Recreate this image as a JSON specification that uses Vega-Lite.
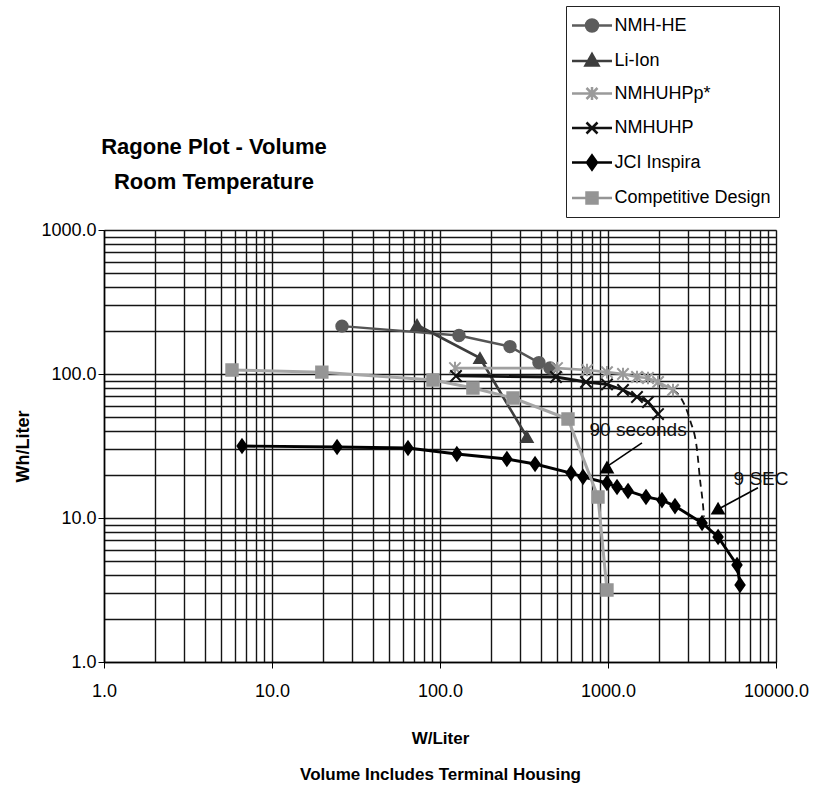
{
  "$schema": "https://vega.github.io/schema/vega-lite/v6.json",
  "width": 672,
  "height": 432,
  "autosize": "none",
  "padding": {"left": 104, "top": 230, "right": 37, "bottom": 127},
  "background": "white",
  "title": {
    "text": ["Ragone Plot - Volume", "Room Temperature"],
    "frame": "group",
    "anchor": "start",
    "align": "center",
    "dx": 110,
    "offset": -188,
    "fontSize": 22,
    "lineHeight": 35,
    "font": "Liberation Sans",
    "fontWeight": "bold",
    "color": "#000000"
  },
  "config": {
    "view": {"stroke": "#777777", "strokeWidth": 1},
    "font": "Liberation Sans",
    "axis": {"labelFont": "Liberation Sans", "titleFont": "Liberation Sans"}
  },
  "datasets": {
    "pts": [
      {"s": "NMH-HE", "i": 1, "x": 26.1, "y": 215},
      {"s": "NMH-HE", "i": 2, "x": 129.7, "y": 185},
      {"s": "NMH-HE", "i": 3, "x": 261, "y": 155},
      {"s": "NMH-HE", "i": 4, "x": 388, "y": 120},
      {"s": "NMH-HE", "i": 5, "x": 452, "y": 110},
      {"s": "Li-Ion", "i": 1, "x": 73, "y": 219},
      {"s": "Li-Ion", "i": 2, "x": 173, "y": 129},
      {"s": "Li-Ion", "i": 3, "x": 329, "y": 36.5},
      {"s": "NMHUHPp*", "i": 1, "x": 122.8, "y": 110},
      {"s": "NMHUHPp*", "i": 2, "x": 497, "y": 110},
      {"s": "NMHUHPp*", "i": 3, "x": 750, "y": 106.6},
      {"s": "NMHUHPp*", "i": 4, "x": 986, "y": 103},
      {"s": "NMHUHPp*", "i": 5, "x": 1228, "y": 100},
      {"s": "NMHUHPp*", "i": 6, "x": 1488, "y": 95.3},
      {"s": "NMHUHPp*", "i": 7, "x": 1730, "y": 93.8},
      {"s": "NMHUHPp*", "i": 8, "x": 1985, "y": 88},
      {"s": "NMHUHPp*", "i": 9, "x": 2437, "y": 77.4},
      {"s": "NMHUHP", "i": 1, "x": 124.5, "y": 96.9},
      {"s": "NMHUHP", "i": 2, "x": 490, "y": 95.3},
      {"s": "NMHUHP", "i": 3, "x": 740, "y": 88},
      {"s": "NMHUHP", "i": 4, "x": 986, "y": 84.6},
      {"s": "NMHUHP", "i": 5, "x": 1228, "y": 77.4},
      {"s": "NMHUHP", "i": 6, "x": 1488, "y": 69.2},
      {"s": "NMHUHP", "i": 7, "x": 1730, "y": 63.9},
      {"s": "NMHUHP", "i": 8, "x": 1985, "y": 52.7},
      {"s": "JCI Inspira", "i": 1, "x": 6.63, "y": 31.6},
      {"s": "JCI Inspira", "i": 2, "x": 24.4, "y": 31.1},
      {"s": "JCI Inspira", "i": 3, "x": 64.5, "y": 30.6},
      {"s": "JCI Inspira", "i": 4, "x": 126, "y": 27.8},
      {"s": "JCI Inspira", "i": 5, "x": 250, "y": 25.7},
      {"s": "JCI Inspira", "i": 6, "x": 368, "y": 23.7},
      {"s": "JCI Inspira", "i": 7, "x": 602, "y": 20.5},
      {"s": "JCI Inspira", "i": 8, "x": 710, "y": 19.3},
      {"s": "JCI Inspira", "i": 9, "x": 986, "y": 17.5},
      {"s": "JCI Inspira", "i": 10, "x": 1132, "y": 16.4},
      {"s": "JCI Inspira", "i": 11, "x": 1316, "y": 15.4},
      {"s": "JCI Inspira", "i": 12, "x": 1683, "y": 14.0},
      {"s": "JCI Inspira", "i": 13, "x": 2095, "y": 13.3},
      {"s": "JCI Inspira", "i": 14, "x": 2505, "y": 12.1},
      {"s": "JCI Inspira", "i": 15, "x": 3630, "y": 9.23},
      {"s": "JCI Inspira", "i": 16, "x": 4520, "y": 7.38},
      {"s": "JCI Inspira", "i": 17, "x": 5860, "y": 4.72},
      {"s": "JCI Inspira", "i": 18, "x": 6110, "y": 3.43},
      {"s": "Competitive Design", "i": 1, "x": 5.78, "y": 106.6},
      {"s": "Competitive Design", "i": 2, "x": 19.8, "y": 103},
      {"s": "Competitive Design", "i": 3, "x": 90.8, "y": 90.8},
      {"s": "Competitive Design", "i": 4, "x": 157, "y": 80.0},
      {"s": "Competitive Design", "i": 5, "x": 272, "y": 68.1},
      {"s": "Competitive Design", "i": 6, "x": 578, "y": 48.7},
      {"s": "Competitive Design", "i": 7, "x": 872, "y": 14.0},
      {"s": "Competitive Design", "i": 8, "x": 986, "y": 3.16}
    ],
    "dash": [
      {"i": 1, "x": 2437, "y": 77.4},
      {"i": 2, "x": 2720, "y": 68},
      {"i": 3, "x": 3077, "y": 47.9},
      {"i": 4, "x": 3388, "y": 29.7},
      {"i": 5, "x": 3531, "y": 18.4},
      {"i": 6, "x": 3677, "y": 12.3},
      {"i": 7, "x": 3727, "y": 10.2}
    ],
    "notes": [
      {"x": 1510, "y": 40.8, "t": "90 seconds"},
      {"x": 8140, "y": 18.7, "t": "9 SEC"}
    ],
    "arrows": [
      {"x": 1593, "y": 33.2, "x2": 1000, "y2": 23.0},
      {"x": 7810, "y": 16.2, "x2": 4640, "y2": 11.7}
    ],
    "heads": [
      {"x": 986, "y": 22.6},
      {"x": 4520, "y": 11.7}
    ]
  },
  "encoding": {
    "x": {
      "field": "x",
      "type": "quantitative",
      "scale": {"type": "log", "domain": [1, 10000], "nice": false},
      "axis": {
        "values": [1,2,3,4,5,6,7,8,9,10,20,30,40,50,60,70,80,90,100,200,300,400,500,600,700,800,900,1000,2000,3000,4000,5000,6000,7000,8000,9000,10000],
        "labelExpr": "indexof([1,10,100,1000,10000], datum.value) >= 0 ? format(datum.value, '.1f') : ''",
        "labelOverlap": false,
        "labelFlush": false,
        "labelFontSize": 18,
        "labelColor": "#000000",
        "labelPadding": 14,
        "tickSize": 6,
        "tickColor": "#000000",
        "tickOpacity": {"condition": {"test": "indexof([1,10,100,1000,10000], datum.value) >= 0", "value": 1}, "value": 0},
        "grid": true,
        "gridColor": "#141414",
        "gridWidth": 1.4,
        "gridOpacity": 1,
        "domainColor": "#000000",
        "domainWidth": 1.5,
        "title": ["W/Liter", "Volume Includes Terminal Housing"],
        "titleFontSize": 17,
        "titleFontWeight": "bold",
        "titleColor": "#000000",
        "titleLineHeight": 36,
        "titlePadding": 30
      }
    },
    "y": {
      "field": "y",
      "type": "quantitative",
      "scale": {"type": "log", "domain": [1, 1000], "nice": false},
      "axis": {
        "values": [1,2,3,4,5,6,7,8,9,10,20,30,40,50,60,70,80,90,100,200,300,400,500,600,700,800,900,1000],
        "labelExpr": "indexof([1,10,100,1000,10000], datum.value) >= 0 ? format(datum.value, '.1f') : ''",
        "labelOverlap": false,
        "labelFlush": false,
        "labelFontSize": 18,
        "labelColor": "#000000",
        "labelPadding": 2,
        "tickSize": 6,
        "tickColor": "#000000",
        "tickOpacity": {"condition": {"test": "indexof([1,10,100,1000,10000], datum.value) >= 0", "value": 1}, "value": 0},
        "grid": true,
        "gridColor": "#141414",
        "gridWidth": 1.4,
        "gridOpacity": 1,
        "domainColor": "#000000",
        "domainWidth": 1.5,
        "title": "Wh/Liter",
        "titleFontSize": 18,
        "titleFontWeight": "bold",
        "titleColor": "#000000",
        "titlePadding": 8
      }
    }
  },
  "layer": [
    {
      "data": {"name": "pts"},
      "mark": {"type": "line"},
      "encoding": {
        "color": {
          "field": "s", "type": "nominal",
          "scale": {"domain": ["NMH-HE", "Li-Ion", "NMHUHPp*", "NMHUHP", "JCI Inspira", "Competitive Design"],
                    "range": ["#555555", "#3d3d3d", "#a0a0a0", "#111111", "#000000", "#a6a6a6"]},
          "legend": null
        },
        "strokeWidth": {
          "field": "s", "type": "nominal",
          "scale": {"domain": ["NMH-HE", "Li-Ion", "NMHUHPp*", "NMHUHP", "JCI Inspira", "Competitive Design"],
                    "range": [2.5, 3, 2, 2, 2, 2]},
          "legend": null
        },
        "order": {"field": "i", "type": "quantitative"}
      }
    },
    {
      "data": {"name": "dash"},
      "mark": {"type": "line", "strokeDash": [7, 5], "strokeWidth": 1.8, "color": "#111111", "interpolate": "monotone"},
      "encoding": {"order": {"field": "i", "type": "quantitative"}}
    },
    {
      "data": {"name": "pts"},
      "mark": {"type": "point", "size": 130, "strokeWidth": 2, "opacity": 1},
      "encoding": {
        "shape": {
          "field": "s", "type": "nominal",
          "scale": {"domain": ["NMH-HE", "Li-Ion", "NMHUHPp*", "NMHUHP", "JCI Inspira", "Competitive Design"],
                    "range": ["circle", "triangle-up", "M-1,-1L1,1M-1,1L1,-1M0,-1.1V1.1", "M-1,-1L1,1M-1,1L1,-1", "M0,-1.15L0.8,0L0,1.15L-0.8,0Z", "square"]},
          "legend": null
        },
        "fill": {
          "field": "s", "type": "nominal",
          "scale": {"domain": ["NMH-HE", "Li-Ion", "NMHUHPp*", "NMHUHP", "JCI Inspira", "Competitive Design"],
                    "range": ["#5c5c5c", "#3d3d3d", "#9a9a9a", "#111111", "#000000", "#959595"]},
          "legend": null
        },
        "stroke": {
          "field": "s", "type": "nominal",
          "scale": {"domain": ["NMH-HE", "Li-Ion", "NMHUHPp*", "NMHUHP", "JCI Inspira", "Competitive Design"],
                    "range": ["#5c5c5c", "#3d3d3d", "#9a9a9a", "#111111", "#000000", "#959595"]},
          "legend": null
        }
      }
    },
    {
      "data": {"name": "pts"},
      "transform": [{"filter": "datum.x < 0"}],
      "mark": {"type": "point", "opacity": 1, "strokeWidth": 2.5},
      "encoding": {
        "shape": {
          "field": "s", "type": "nominal",
          "scale": {"domain": ["NMH-HE", "Li-Ion", "NMHUHPp*", "NMHUHP", "JCI Inspira", "Competitive Design"],
                    "range": [
                      "M-2,0H2M0.6,0A0.6,0.6,0,1,1,-0.6,0A0.6,0.6,0,1,1,0.6,0Z",
                      "M-2,0H2M0,-0.7L0.65,0.45L-0.65,0.45Z",
                      "M-2,0H2M-0.55,-0.55L0.55,0.55M-0.55,0.55L0.55,-0.55M0,-0.65V0.65",
                      "M-2,0H2M-0.55,-0.55L0.55,0.55M-0.55,0.55L0.55,-0.55",
                      "M-2,0H2M0,-0.7L0.5,0L0,0.7L-0.5,0Z",
                      "M-2,0H2M-0.55,-0.55H0.55V0.55H-0.55Z"
                    ]},
          "legend": {"orient": "none", "legendX": 462, "legendY": -224, "title": null, "strokeColor": "#222222", "padding": 8, "symbolSize": 400, "symbolStrokeWidth": 2.5, "symbolOffset": 6.5, "labelOffset": 11, "labelFontSize": 18, "labelFont": "Liberation Sans", "labelColor": "#000000", "rowPadding": 11.5, "symbolOpacity": 1}
        },
        "fill": {
          "field": "s", "type": "nominal",
          "scale": {"domain": ["NMH-HE", "Li-Ion", "NMHUHPp*", "NMHUHP", "JCI Inspira", "Competitive Design"],
                    "range": ["#5c5c5c", "#3d3d3d", "#9a9a9a", "#111111", "#000000", "#959595"]},
          "legend": {"orient": "none", "legendX": 462, "legendY": -224, "title": null, "strokeColor": "#222222", "padding": 8, "symbolSize": 400, "symbolStrokeWidth": 2.5, "symbolOffset": 6.5, "labelOffset": 11, "labelFontSize": 18, "labelFont": "Liberation Sans", "labelColor": "#000000", "rowPadding": 11.5, "symbolOpacity": 1}
        },
        "stroke": {
          "field": "s", "type": "nominal",
          "scale": {"domain": ["NMH-HE", "Li-Ion", "NMHUHPp*", "NMHUHP", "JCI Inspira", "Competitive Design"],
                    "range": ["#5c5c5c", "#3d3d3d", "#9a9a9a", "#111111", "#000000", "#959595"]},
          "legend": {"orient": "none", "legendX": 462, "legendY": -224, "title": null, "strokeColor": "#222222", "padding": 8, "symbolSize": 400, "symbolStrokeWidth": 2.5, "symbolOffset": 6.5, "labelOffset": 11, "labelFontSize": 18, "labelFont": "Liberation Sans", "labelColor": "#000000", "rowPadding": 11.5, "symbolOpacity": 1}
        }
      }
    },
    {
      "data": {"name": "arrows"},
      "mark": {"type": "rule", "strokeWidth": 1.6, "color": "#000000"},
      "encoding": {
        "x2": {"field": "x2"},
        "y2": {"field": "y2"}
      }
    },
    {
      "data": {"name": "heads"},
      "mark": {"type": "point", "shape": "triangle-up", "filled": true, "color": "#000000", "size": 220, "opacity": 1}
    },
    {
      "data": {"name": "notes"},
      "mark": {"type": "text", "fontSize": 19, "font": "Liberation Sans", "color": "#111111"},
      "encoding": {"text": {"field": "t", "type": "nominal"}}
    }
  ],
  "resolve": {"scale": {"shape": "independent", "fill": "independent", "stroke": "independent"}}
}
